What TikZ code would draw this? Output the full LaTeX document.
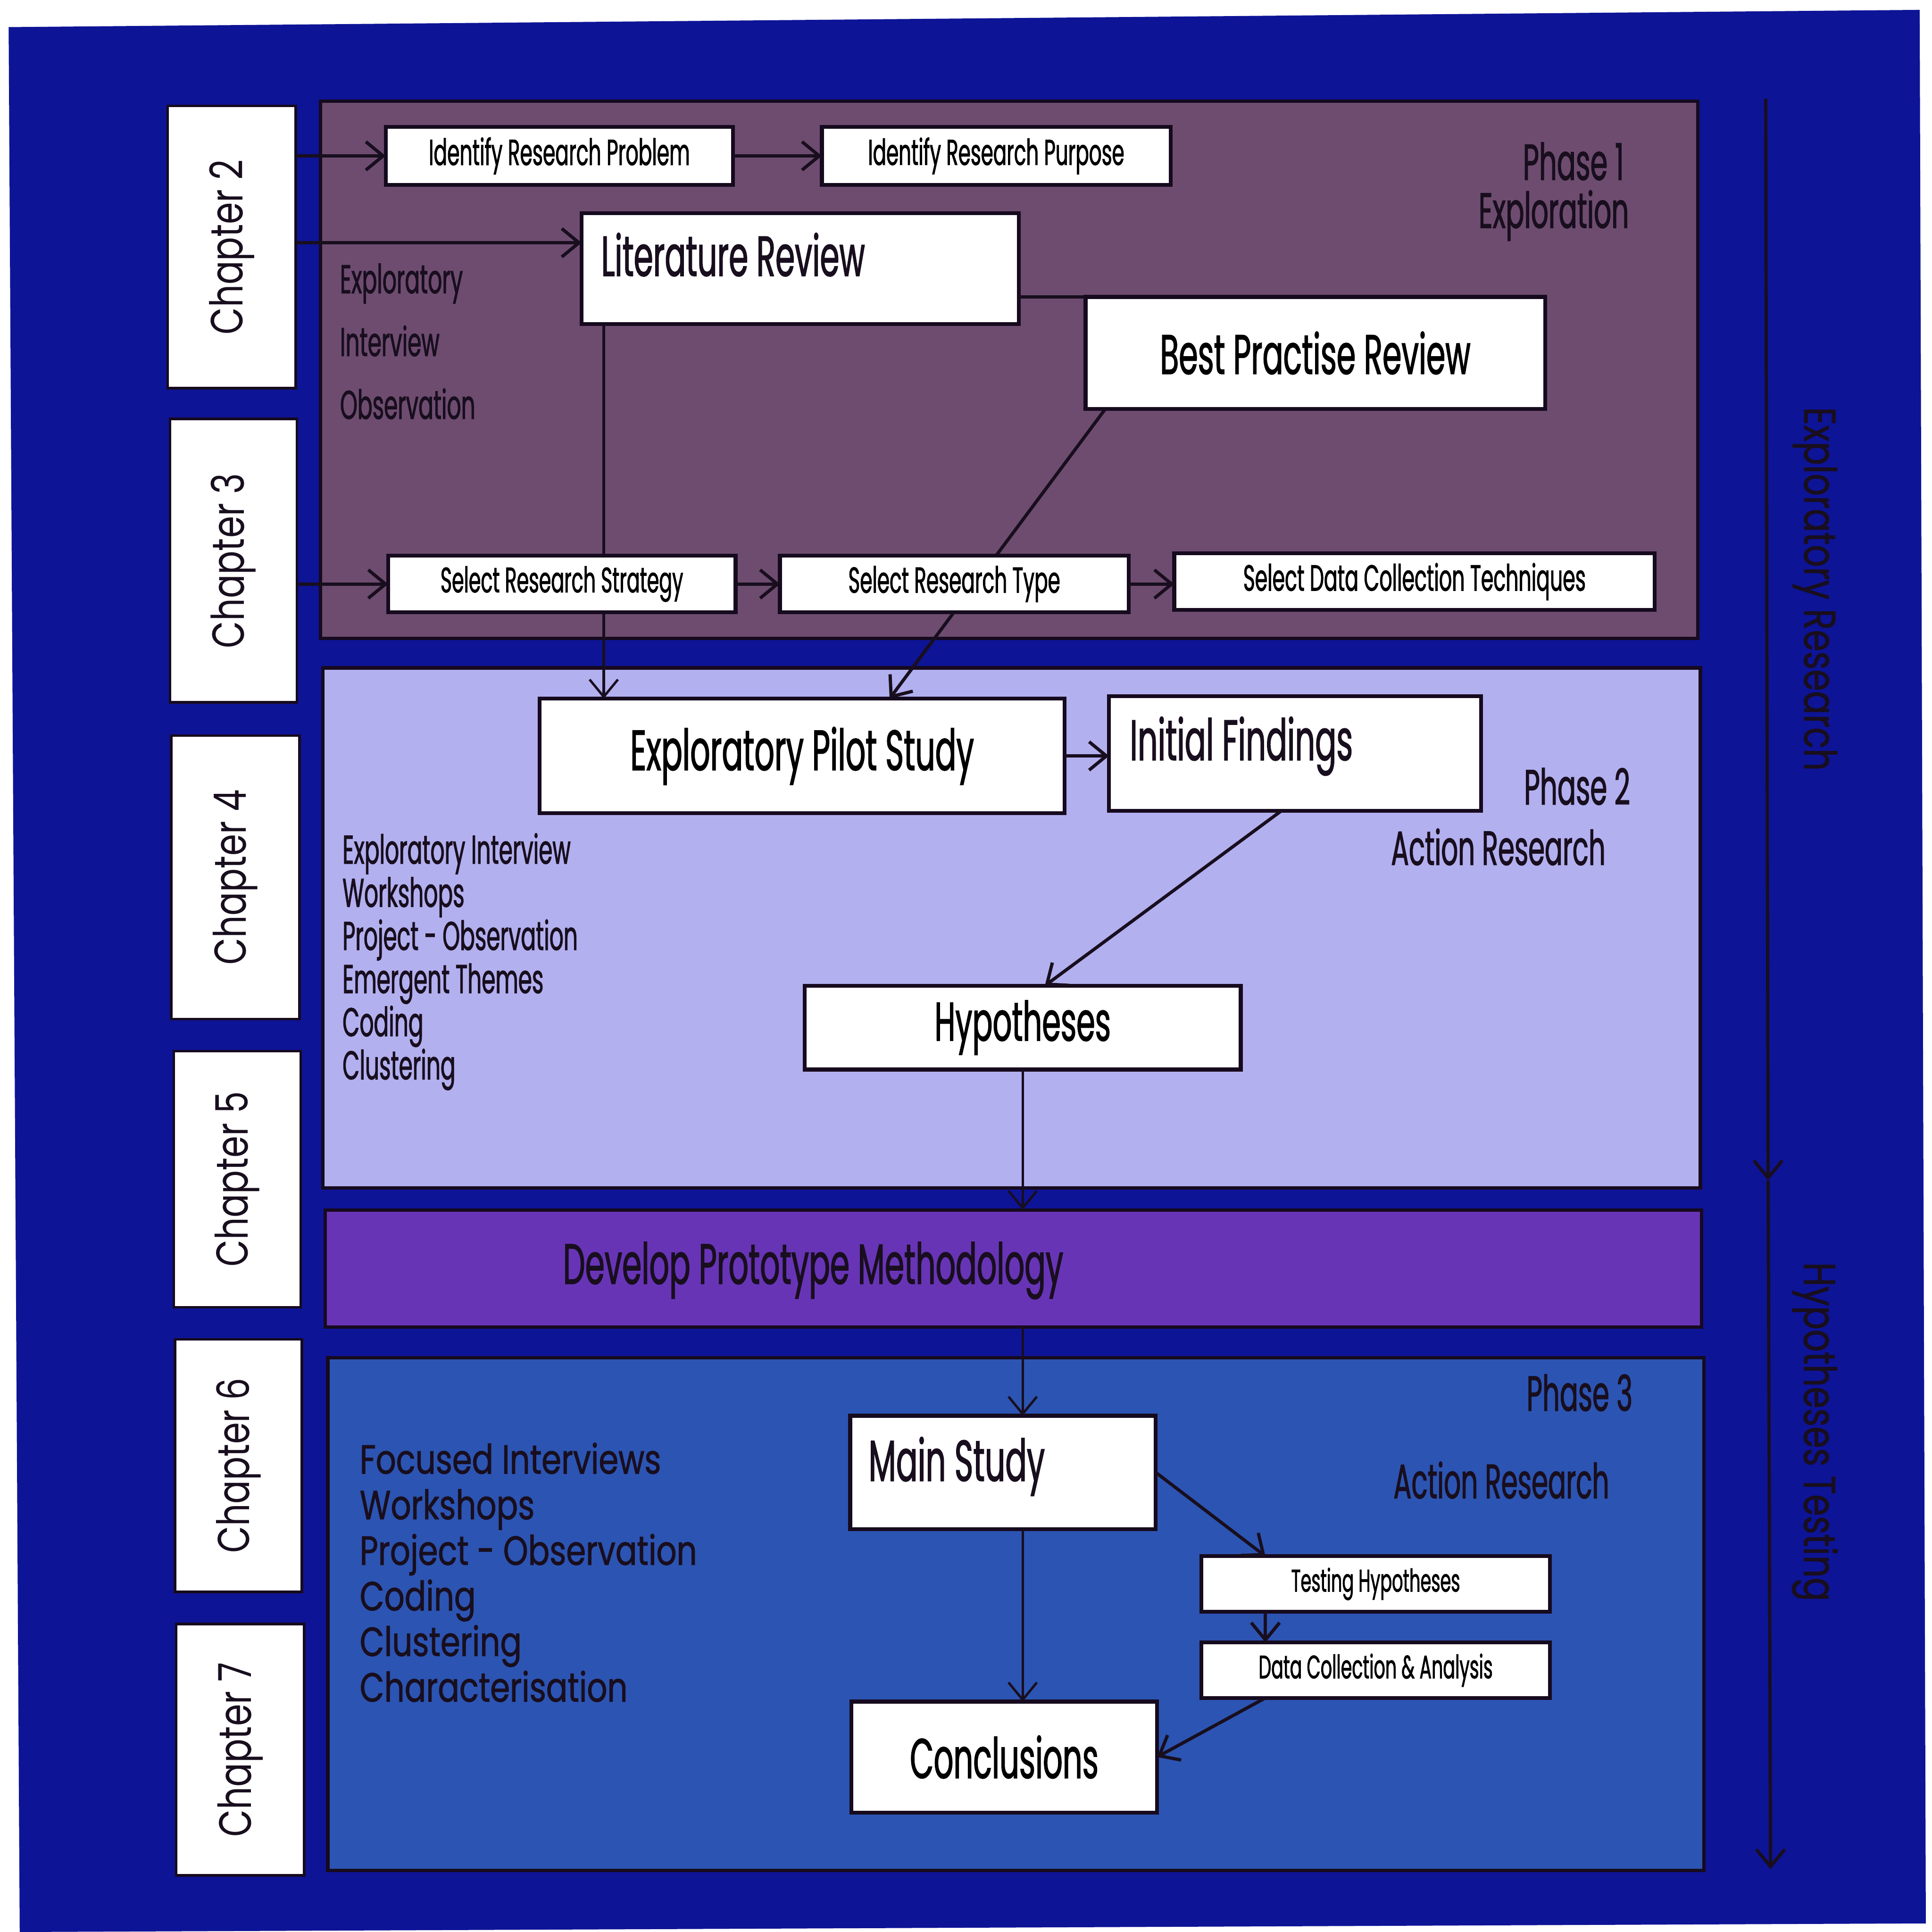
\documentclass[tikz,border=0pt]{standalone}
\usepackage{graphicx}
\usepackage{fontspec}
\setmainfont{Poppins}
\newfontfamily\cond[FakeStretch=0.55,FakeBold=1.2]{Poppins}
\newfontfamily\semi[FakeStretch=0.78]{Poppins}
\newfontfamily\semib[FakeStretch=0.78,FakeBold=1.2]{Poppins}
\usetikzlibrary{arrows.meta,calc}
\pgfdeclarelayer{back}
\pgfdeclarelayer{lines}
\pgfsetlayers{back,lines,main}

\definecolor{bgblue}{RGB}{14,20,150}
\definecolor{phaseone}{RGB}{110,76,112}
\definecolor{phasetwo}{RGB}{178,176,238}
\definecolor{bandcol}{RGB}{104,52,182}
\definecolor{phasethree}{RGB}{44,84,178}
\definecolor{edge}{RGB}{22,10,30}
\definecolor{ink}{RGB}{24,14,30}

% text fitted to a given width (in mm)
\newcommand\fitw[2]{\resizebox{#1mm}{!}{\cond #2}}
\newcommand\fits[2]{\resizebox{#1mm}{!}{\semi #2}}
\newcommand\fitsb[2]{\resizebox{#1mm}{!}{\semib #2}}

\begin{document}
\begin{tikzpicture}[x=0.1mm,y=-0.1mm,
  wh/.style 2 args={minimum width=#1*0.1mm, minimum height=#2*0.1mm},
  panel/.style={draw=edge, line width=0.8pt, inner sep=0, outer sep=0},
  box/.style={draw=edge, fill=white, line width=0.9pt, inner sep=0, outer sep=0},
  chapbox/.style={box, line width=0.6pt},
  txt/.style={inner sep=0, outer sep=0, text=ink},
  listc/.style={txt, anchor=base west, font=\cond\fontsize{9.3}{11}\selectfont},
  lists/.style={txt, anchor=base west, font=\semib\fontsize{9.4}{11}\selectfont},
  arr/.style={draw=ink, line width=0.75pt, -{Straight Barb[length=1.4mm,width=2.3mm]}},
  thinarr/.style={arr, line width=0.55pt},
  link/.style={draw=ink, line width=0.75pt},
]
\useasboundingbox (0,0) rectangle (1568,1568);

% sheet and phase panels
\begin{pgfonlayer}{back}
\fill[white] (0,0) rectangle (1568,1568);
\fill[bgblue] (7,22) -- (1558,8) -- (1563,1561) -- (16,1568) -- cycle;
\node[panel, fill=phaseone, wh={1118}{436}] (ph1) at (819,300) {};
\node[panel, fill=phasetwo, wh={1118}{422}] (ph2) at (821,753) {};
\node[panel, fill=bandcol, wh={1117}{95}] (band) at (822.5,1029.5) {};
\node[panel, fill=phasethree, wh={1117}{416}] (ph3) at (824.5,1310) {};
\end{pgfonlayer}

% chapter tabs
\node[chapbox, wh={104}{229}] (c2) at (188,200.5) {};
\node[chapbox, wh={103}{230}] (c3) at (189.5,455) {};
\node[chapbox, wh={104}{230}] (c4) at (191,712) {};
\node[chapbox, wh={103}{208}] (c5) at (192.5,957) {};
\node[chapbox, wh={103}{205}] (c6) at (193.5,1189.5) {};
\node[chapbox, wh={104}{204}] (c7) at (195,1420) {};
\foreach \n in {2,...,7}
  \node[txt, rotate=90] (c\n t) at (c\n) {\fits{14.2}{Chapter \n}};

% time line on the right
\coordinate (t0) at (1433,80);
\coordinate (t1) at (1435,958);
\coordinate (t2) at (1437,1517);
\draw[arr] (t0) -- (t1);
\draw[arr] (t1) -- (t2);
\node[txt, rotate=-90] (xr) at (1473,478) {\fitsb{29.5}{Exploratory Research}};
\node[txt, rotate=-90] (ht) at (1473,1162) {\fitsb{27.5}{Hypotheses Testing}};

% ---- Phase 1
\node[box, wh={282}{47}] (irp) at (454,126.5) {\fitw{21.2}{Identify Research Problem}};
\node[box, wh={283}{47}] (irpu) at (808.5,126.5) {\fitw{20.8}{Identify Research Purpose}};
\node[box, wh={355}{90}] (lit) at (649.5,218) {};
\node[txt, anchor=base west] (litt) at (488,224) {\fitw{21.4}{Literature Review}};
\node[box, wh={373}{91}] (bpr) at (1067.5,286.5) {\fitw{25.2}{Best Practise Review}};
\node[box, wh={282}{46}] (srs) at (456,474) {\fitw{19.7}{Select Research Strategy}};
\node[box, wh={283}{46}] (srt) at (774.5,474) {\fitw{17.2}{Select Research Type}};
\node[box, wh={390}{46}] (sdc) at (1148,472) {\fitw{27.8}{Select Data Collection Techniques}};
\node[txt, anchor=base east] (p1a) at (1318,146) {\fitw{8.2}{Phase 1}};
\node[txt, anchor=base east] (p1b) at (1322,185) {\fitw{12.2}{Exploration}};
\foreach \t [count=\i from 0] in {Exploratory,Interview,Observation}
  \node[listc] (p1l\i) at (276,238+51*\i) {\t};

% ---- Phase 2
\node[box, wh={426}{93}] (pilot) at (651,613.5) {\fitw{27.9}{Exploratory Pilot Study}};
\node[box, wh={302}{93}] (init) at (1051,611.5) {};
\node[txt, anchor=base west] (initt) at (917,617) {\fitw{18.1}{Initial Findings}};
\node[box, wh={354}{68}] (hyp) at (830,834) {\fitw{14.3}{Hypotheses}};
\node[txt, anchor=base east] (p2a) at (1323,653) {\fitw{8.6}{Phase 2}};
\node[txt, anchor=base east] (p2b) at (1303,702) {\fitw{17.4}{Action Research}};
\foreach \t [count=\i from 0] in {Exploratory Interview,Workshops,Project - Observation,Emergent Themes,Coding,Clustering}
  \node[listc] (p2l\i) at (278,701+35*\i) {\t};

% ---- prototype band
\node[txt, anchor=base] (bandt) at (660,1042) {\fitw{40.6}{Develop Prototype Methodology}};

% ---- Phase 3
\node[box, wh={248}{92}] (main) at (814,1195) {};
\node[txt, anchor=base west] (maint) at (705,1202) {\fitw{14.3}{Main Study}};
\node[box, wh={248}{90}] (concl) at (815,1426) {\fitw{15.3}{Conclusions}};
\node[box, wh={283}{45}] (th) at (1116.5,1285.5) {\fitw{13.7}{Testing Hypotheses}};
\node[box, wh={283}{45}] (dca) at (1116.5,1355.5) {\fitw{19.0}{Data Collection \& Analysis}};
\node[txt, anchor=base east] (p3a) at (1325,1145) {\fitw{8.6}{Phase 3}};
\node[txt, anchor=base east] (p3b) at (1306,1216) {\fitw{17.5}{Action Research}};
\foreach \t [count=\i from 0] in {Focused Interviews,Workshops,Project - Observation,Coding,Clustering,Characterisation}
  \node[lists] (p3l\i) at (292,1196+37*\i) {\t};

% ---- connectors
\draw[arr] (c2.east |- irp.west) -- (irp.west);
\draw[arr] (irp.east) -- (irpu.west);
\coordinate (litin) at ([yshift=2.1mm]lit.west);
\draw[arr] (c2.east |- litin) -- (litin);
\draw[link] (lit.east |- bpr.north) -- (bpr.north west);
\draw[arr] (c3.east |- srs.west) -- (srs.west);
\draw[arr] (srs.east) -- (srt.west);
\draw[arr] (srt.east) -- (sdc.west |- srt.east);
\begin{pgfonlayer}{lines}
\coordinate (litdn) at ([xshift=1.8mm]lit.south west);
\draw[thinarr] (litdn) -- (litdn |- pilot.north);
\draw[arr] ([xshift=1.6mm]bpr.south west) -- ([xshift=28.4mm]pilot.north west);
\end{pgfonlayer}
\draw[arr] (pilot.east) -- (init.west |- pilot.east);
\draw[arr] ([xshift=14mm]init.south west) -- ([xshift=19.5mm]hyp.north west);
\draw[thinarr] (hyp.south) -- (hyp.south |- band.north);
\draw[thinarr] (hyp.south |- band.south) -- (hyp.south |- main.north);
\draw[thinarr] (hyp.south |- main.south) -- (hyp.south |- concl.north);
\draw[arr] (main.east) -- ([xshift=5.2mm]th.north west);
\draw[arr] ([xshift=5.2mm]th.south west) -- ([xshift=5.2mm]dca.north west);
\draw[arr] ([xshift=5.2mm]dca.south west) -- (concl.east);
\end{tikzpicture}
\end{document}
